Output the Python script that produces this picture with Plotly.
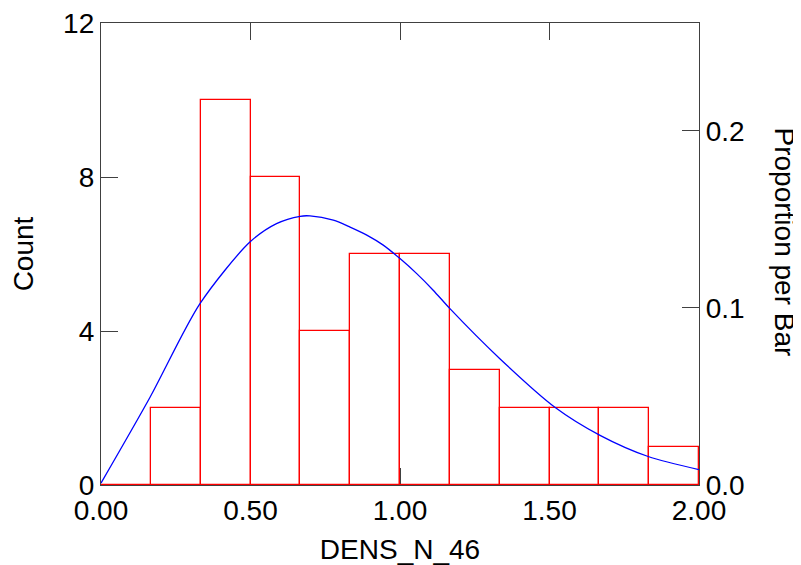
import plotly.graph_objects as go

# Histogram data (bin edges of width 1/6 from 0 to 2)
bin_edges = [0.0, 1/6, 2/6, 3/6, 4/6, 5/6, 1.0, 7/6, 8/6, 9/6, 10/6, 11/6, 2.0]
counts = [0, 2, 10, 8, 4, 6, 6, 3, 2, 2, 2, 1]
total_n = 46

# Fitted density curve (in count units)
curve_x = [0.0, 0.164, 0.331, 0.498, 0.587, 0.666, 0.699, 0.777, 0.833, 0.889, 0.944,
           1.0, 1.056, 1.111, 1.167, 1.334, 1.518, 1.669, 1.830, 2.0]
curve_y = [0.05, 2.28, 4.71, 6.31, 6.79, 6.98, 6.99, 6.88, 6.70, 6.49, 6.23,
           5.88, 5.49, 5.06, 4.58, 3.28, 2.02, 1.29, 0.74, 0.40]

x_ticks = [0.0, 0.5, 1.0, 1.5, 2.0]
x_tick_labels = ["0.00", "0.50", "1.00", "1.50", "2.00"]
y_ticks = [0, 4, 8, 12]
y2_ticks = [0.0, 0.1, 0.2]

centers = [(bin_edges[i] + bin_edges[i + 1]) / 2 for i in range(len(counts))]
widths = [bin_edges[i + 1] - bin_edges[i] for i in range(len(counts))]

FONT = "Liberation Sans, Arial, sans-serif"
AX = "#404040"

fig = go.Figure()
fig.add_trace(go.Bar(
    x=centers, y=counts, width=widths,
    marker=dict(color="rgba(255,255,255,0)", line=dict(color="#ff0000", width=1.3)),
    showlegend=False, hoverinfo="skip",
))
# baseline of bars (the zero-count bin still has its bottom edge drawn)
fig.add_trace(go.Scatter(
    x=[bin_edges[0], bin_edges[-1]], y=[0, 0], mode="lines",
    line=dict(color="#ff0000", width=1.5), showlegend=False, hoverinfo="skip",
))
fig.add_trace(go.Scatter(
    x=curve_x, y=curve_y, mode="lines", line=dict(color="#0000ff", width=1.3, shape="spline", smoothing=0.8),
    showlegend=False, hoverinfo="skip",
))
# invisible trace for secondary axis
fig.add_trace(go.Scatter(x=[0], y=[0], yaxis="y2", mode="markers", marker=dict(opacity=0),
                         showlegend=False, hoverinfo="skip"))

# page body has an 8px margin, so the figure is sized/offset to compensate
fig.update_layout(
    width=793, height=557,
    margin=dict(l=93, r=102, t=15, b=80),
    paper_bgcolor="white", plot_bgcolor="white",
    font=dict(family=FONT, size=28, color="black"),
    bargap=0,
    xaxis=dict(
        range=[0, 2], tickvals=x_ticks, ticktext=x_tick_labels,
        ticks="inside", ticklen=17, tickwidth=1.3, tickcolor=AX,
        showline=True, linecolor=AX, linewidth=1.3, mirror="ticks",
        showgrid=False, zeroline=False, automargin=False, layer="below traces",
        ticklabeloverflow="allow",
        title=dict(text="DENS_N_46", font=dict(size=28), standoff=18),
        tickfont=dict(size=28),
    ),
    yaxis=dict(
        range=[0, 12], tickvals=y_ticks,
        ticks="inside", ticklen=17, tickwidth=1.3, tickcolor=AX,
        showline=True, linecolor=AX, linewidth=1.3,
        showgrid=False, zeroline=False, automargin=False,
        ticklabeloverflow="allow",
        title=dict(text="Count", font=dict(size=28), standoff=23),
        tickfont=dict(size=28),
    ),
    yaxis2=dict(
        overlaying="y", side="right",
        range=[0, 12 / total_n], tickvals=y2_ticks, tickformat=".1f",
        ticks="inside", ticklen=17, tickwidth=1.3, tickcolor=AX,
        showline=True, linecolor=AX, linewidth=1.3,
        showgrid=False, zeroline=False, automargin=False,
        ticklabeloverflow="allow",
        tickfont=dict(size=28),
    ),
    annotations=[dict(
        text="Proportion per Bar", textangle=90, xref="paper", yref="paper",
        x=1.0, xshift=85, y=0.527, showarrow=False, font=dict(size=28),
        xanchor="center", yanchor="middle",
    )],
)

fig.write_html("out.html")
